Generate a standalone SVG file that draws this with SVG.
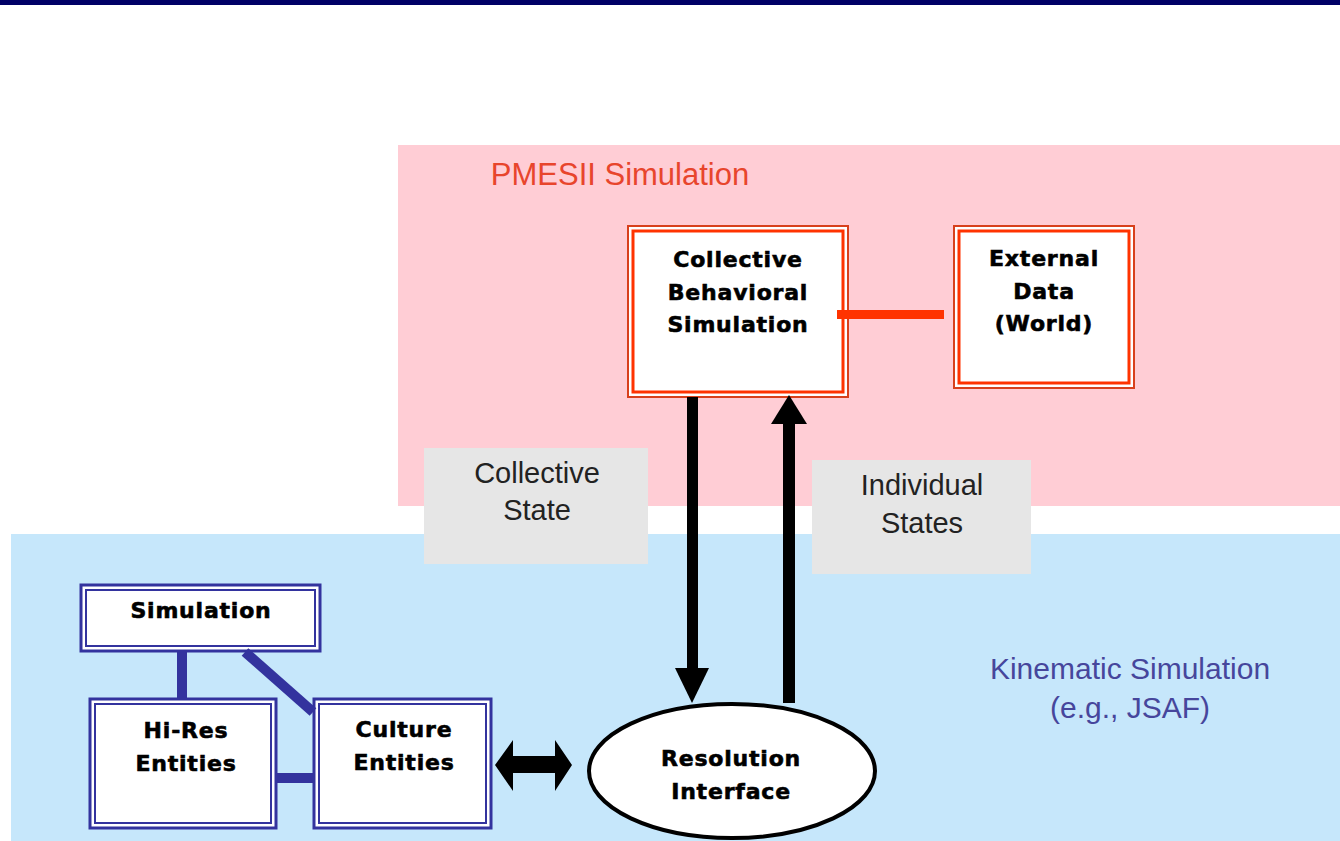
<svg xmlns="http://www.w3.org/2000/svg" width="1340" height="841" viewBox="0 0 1340 841">
  <defs>
    <style>
      .bold { font-family: "DejaVu Sans", "Liberation Sans", sans-serif; font-weight: bold; font-size: 22px; letter-spacing: 0.8px; fill: #000; stroke: #000; stroke-width: 0.6px; text-anchor: middle; }
      .plain { font-family: "Liberation Sans", Arial, sans-serif; font-size: 29px; fill: #222; text-anchor: middle; }
      .redOuter { fill: #fff; stroke: #d8401c; stroke-width: 2; }
      .redInner { fill: #fff; stroke: #ff3300; stroke-width: 3; }
      .blueOuter { fill: #fff; stroke: #33339e; stroke-width: 3; }
      .blueInner { fill: none; stroke: #33339e; stroke-width: 2; }
      .blueLink { stroke: #33339e; stroke-width: 10; fill: none; }
      .gray { fill: #e6e6e6; }
    </style>
  </defs>

  <rect x="0" y="0" width="1340" height="841" fill="#ffffff"/>
  <rect x="0" y="0" width="1340" height="5" fill="#000066"/>

  <!-- regions -->
  <g id="pmesii-region">
    <rect x="398" y="145" width="942" height="361" fill="#ffcdd5"/>
    <text x="620" y="185" font-family="Liberation Sans, Arial, sans-serif" font-size="31" fill="#e8452c" text-anchor="middle">PMESII Simulation</text>
  </g>
  <g id="kinematic-region">
    <rect x="11" y="534" width="1329" height="307" fill="#c6e7fb"/>
    <text x="1130" y="679" font-family="Liberation Sans, Arial, sans-serif" font-size="30" fill="#46469c" text-anchor="middle">Kinematic Simulation</text>
    <text x="1130" y="718" font-family="Liberation Sans, Arial, sans-serif" font-size="30" fill="#46469c" text-anchor="middle">(e.g., JSAF)</text>
  </g>

  <!-- gray labels -->
  <g id="label-collective-state">
    <rect class="gray" x="424" y="448" width="224" height="116"/>
    <text class="plain" x="537" y="483">Collective</text>
    <text class="plain" x="537" y="520">State</text>
  </g>
  <g id="label-individual-states">
    <rect class="gray" x="812" y="460" width="219" height="114"/>
    <text class="plain" x="922" y="495">Individual</text>
    <text class="plain" x="922" y="533">States</text>
  </g>

  <!-- nodes -->
  <g id="node-cbs">
    <rect class="redOuter" x="628" y="226" width="220" height="171"/>
    <rect class="redInner" x="633" y="231" width="210" height="161"/>
    <text class="bold" x="738" y="267">Collective</text>
    <text class="bold" x="738" y="300">Behavioral</text>
    <text class="bold" x="738" y="332">Simulation</text>
  </g>
  <g id="node-external">
    <rect class="redOuter" x="954" y="226" width="180" height="162"/>
    <rect class="redInner" x="959" y="231" width="170" height="152"/>
    <text class="bold" x="1044" y="266">External</text>
    <text class="bold" x="1044" y="299">Data</text>
    <text class="bold" x="1044" y="331">(World)</text>
  </g>
  <g id="node-simulation">
    <rect class="blueOuter" x="81" y="585" width="239" height="66"/>
    <rect class="blueInner" x="86" y="590" width="229" height="56"/>
    <text class="bold" x="201" y="618">Simulation</text>
  </g>
  <g id="node-hires">
    <rect class="blueOuter" x="90" y="699" width="186" height="129"/>
    <rect class="blueInner" x="95" y="704" width="176" height="119"/>
    <text class="bold" x="186" y="738">Hi-Res</text>
    <text class="bold" x="186" y="771">Entities</text>
  </g>
  <g id="node-culture">
    <rect class="blueOuter" x="314" y="699" width="177" height="129"/>
    <rect class="blueInner" x="319" y="704" width="167" height="119"/>
    <text class="bold" x="404" y="737">Culture</text>
    <text class="bold" x="404" y="770">Entities</text>
  </g>
  <g id="node-resolution">
    <ellipse cx="732" cy="771" rx="143" ry="67" fill="#fff" stroke="#000" stroke-width="4"/>
    <text class="bold" x="731" y="766">Resolution</text>
    <text class="bold" x="731" y="799">Interface</text>
  </g>

  <!-- connectors -->
  <g id="connectors">
    <line x1="837" y1="314.5" x2="944" y2="314.5" stroke="#ff3300" stroke-width="9"/>
    <!-- down arrow -->
    <rect x="687" y="397" width="11" height="273" fill="#000"/>
    <polygon points="675,668 709,668 692,703" fill="#000"/>
    <!-- up arrow -->
    <rect x="783" y="422" width="12" height="281" fill="#000"/>
    <polygon points="771,424 807,424 789,395" fill="#000"/>
    <!-- double arrow -->
    <polygon points="495,765 513,740 513,756 555,756 555,740 572,765 555,791 555,773 513,773 513,791" fill="#000"/>
    <!-- blue links -->
    <line class="blueLink" x1="182" y1="652" x2="182" y2="698"/>
    <line class="blueLink" x1="245" y1="652" x2="313" y2="712"/>
    <line class="blueLink" x1="277" y1="778" x2="313" y2="778"/>
  </g>
</svg>
